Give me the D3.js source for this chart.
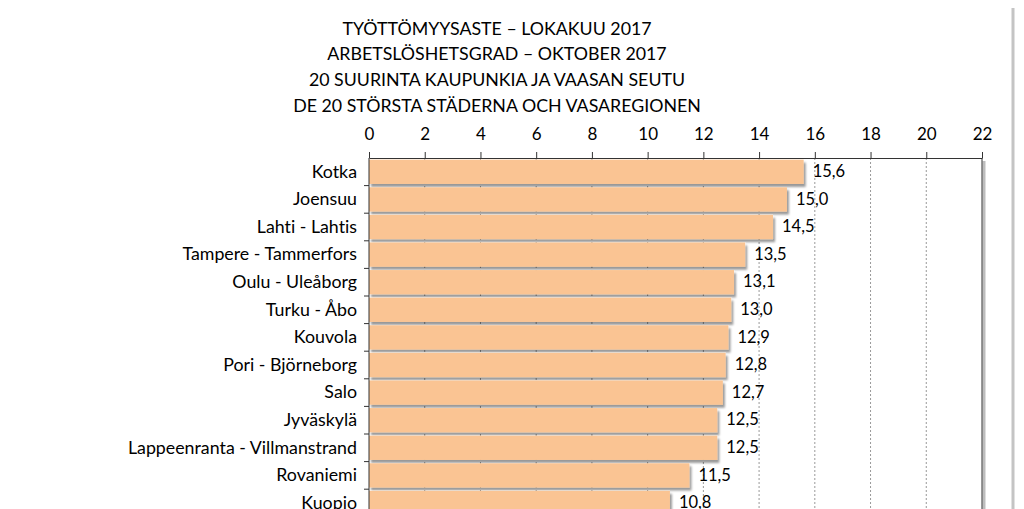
<!DOCTYPE html>
<html>
<head>
<meta charset="utf-8">
<script src="https://cdn.jsdelivr.net/npm/d3@7"></script>
<style>
  body { margin: 0; background: #fff; overflow: hidden; }
  text { font-family: Lato, "Open Sans", sans-serif; fill: #000; font-variant-ligatures: none; }
</style>
</head>
<body>
<svg id="chart"></svg>
<script>
// Otsikot
const titleLines = [
    'TYÖTTÖMYYSASTE  – LOKAKUU 2017',
    'ARBETSLÖSHETSGRAD – OKTOBER 2017',
    '20 SUURINTA KAUPUNKIA JA VAASAN SEUTU',
    'DE 20 STÖRSTA STÄDERNA OCH VASAREGIONEN'
];

// Kaupungit ja arvot (näkyvät rivit)
const cities = [
    'Kotka', 'Joensuu', 'Lahti - Lahtis', 'Tampere - Tammerfors',
    'Oulu - Uleåborg', 'Turku - Åbo', 'Kouvola', 'Pori - Björneborg',
    'Salo', 'Jyväskylä', 'Lappeenranta - Villmanstrand', 'Rovaniemi', 'Kuopio'
];
const rates = [15.6, 15.0, 14.5, 13.5, 13.1, 13.0, 12.9, 12.8, 12.7, 12.5, 12.5, 11.5, 10.8];

const xTicks = [0, 2, 4, 6, 8, 10, 12, 14, 16, 18, 20, 22];

const width = 1024, height = 509;
const plotLeft = 369, plotRight = 982, plotTop = 158;
const rowStep = 27.6;

const svg = d3.select('#chart')
    .attr('width', width)
    .attr('height', height);

// Varjo pylväille
const defs = svg.append('defs');
defs.append('filter')
    .attr('id', 'shadow')
    .attr('x', '-5%').attr('y', '-30%')
    .attr('width', '115%').attr('height', '180%')
    .append('feDropShadow')
    .attr('dx', 2).attr('dy', 3)
    .attr('stdDeviation', 1.3)
    .attr('flood-color', '#000')
    .attr('flood-opacity', 0.4);

// Ulkokehyksen reuna oikealla
svg.append('line')
    .attr('x1', 1013).attr('x2', 1013)
    .attr('y1', 8).attr('y2', height)
    .style('stroke', '#c4c4c4')
    .style('stroke-width', 3);

// Otsikko
svg.append('g')
    .selectAll('text')
    .data(titleLines)
    .enter().append('text')
    .attr('x', 497)
    .attr('y', (d, i) => 30 + i * 25.7)
    .attr('text-anchor', 'middle')
    .attr('dominant-baseline', 'middle')
    .style('font-size', '17.8px')
    .text(d => d);

// Asteikot
const xScale = d3.scaleLinear()
    .domain([0, 22])
    .range([plotLeft, plotRight]);

const yScale = d3.scaleBand()
    .domain(cities)
    .range([plotTop, plotTop + rowStep * cities.length])
    .paddingInner(0.12)
    .paddingOuter(0.06);

// Ruudukko
svg.append('g')
    .selectAll('line.grid')
    .data(xTicks.slice(1, -1))
    .enter().append('line')
    .attr('class', 'grid')
    .attr('x1', d => xScale(d))
    .attr('x2', d => xScale(d))
    .attr('y1', plotTop)
    .attr('y2', height)
    .style('stroke', '#999')
    .style('stroke-width', 1)
    .style('stroke-dasharray', '2,2');

// Pylväät
svg.append('g')
    .attr('filter', 'url(#shadow)')
    .selectAll('rect')
    .data(cities)
    .enter().append('rect')
    .attr('x', xScale(0))
    .attr('y', d => yScale(d))
    .attr('width', (d, i) => xScale(rates[i]) - xScale(0))
    .attr('height', yScale.bandwidth())
    .style('fill', '#FAC493');

// Arvotunnisteet
const fmt = d3.format('.1f');
svg.append('g')
    .selectAll('text')
    .data(cities)
    .enter().append('text')
    .attr('x', (d, i) => xScale(rates[i]) + 9)
    .attr('y', d => yScale(d) + yScale.bandwidth() / 2 + 1)
    .attr('dominant-baseline', 'middle')
    .style('font-size', '16.5px')
    .text((d, i) => fmt(rates[i]).replace('.', ','));

// Kuva-alueen oikea reuna varjolla
svg.append('line')
    .attr('x1', plotRight + 2).attr('x2', plotRight + 2)
    .attr('y1', plotTop + 3).attr('y2', height)
    .style('stroke', '#bdbdbd')
    .style('stroke-width', 3);
svg.append('line')
    .attr('x1', plotRight).attr('x2', plotRight)
    .attr('y1', plotTop).attr('y2', height)
    .style('stroke', '#333')
    .style('stroke-width', 1);

// X-akseli ylhäällä
const xAxis = d3.axisTop(xScale)
    .tickValues(xTicks)
    .tickSize(6)
    .tickPadding(12)
    .tickSizeOuter(0);

const xg = svg.append('g')
    .attr('transform', `translate(0, ${plotTop})`)
    .call(xAxis);
xg.selectAll('text')
    .style('font-size', '17px')
    .style('font-family', 'Lato, sans-serif')
    .attr('fill', '#000');
xg.selectAll('line, path').style('stroke', '#333');

// Y-akseli
const yAxis = d3.axisLeft(yScale)
    .tickSize(0)
    .tickPadding(12);

const yg = svg.append('g')
    .attr('transform', `translate(${plotLeft}, 0)`)
    .call(yAxis);
yg.select('.domain').remove();
yg.selectAll('text')
    .style('font-size', '17.8px')
    .style('font-family', 'Lato, sans-serif')
    .attr('fill', '#000');

// Akselin viiva ja luokkarajojen merkit
svg.append('line')
    .attr('x1', plotLeft).attr('x2', plotLeft)
    .attr('y1', plotTop).attr('y2', height)
    .style('stroke', '#333');

svg.append('g')
    .selectAll('line.cat')
    .data(cities)
    .enter().append('line')
    .attr('class', 'cat')
    .attr('x1', plotLeft - 5).attr('x2', plotLeft)
    .attr('y1', d => yScale(d) + yScale.step() - yScale.step() * yScale.paddingOuter())
    .attr('y2', d => yScale(d) + yScale.step() - yScale.step() * yScale.paddingOuter())
    .style('stroke', '#333');
</script>
</body>
</html>
